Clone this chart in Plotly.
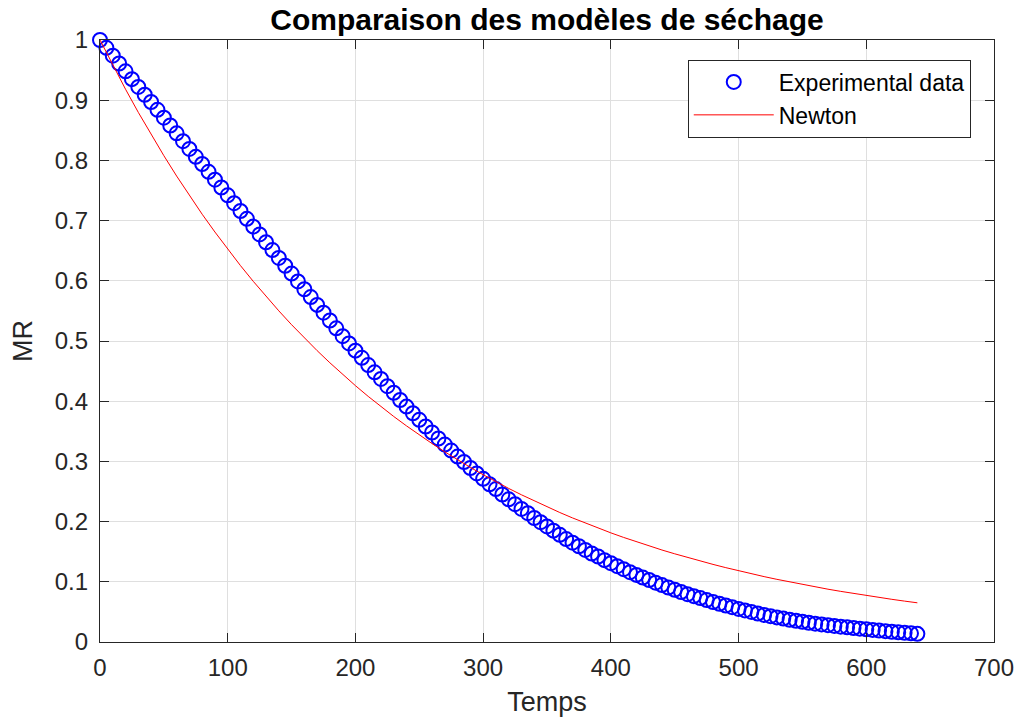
import plotly.graph_objects as go

# ---- data ----
time_exp = list(range(0, 645, 5))  # sample times 0..640 (step 5)
mr_exp = [
    1.000, 0.987, 0.974, 0.961, 0.948, 0.935, 0.922, 0.909, 0.897, 0.884,
    0.871, 0.858, 0.845, 0.832, 0.819, 0.806, 0.794, 0.781, 0.768, 0.755,
    0.742, 0.729, 0.716, 0.703, 0.690, 0.677, 0.664, 0.651, 0.638, 0.625,
    0.612, 0.599, 0.586, 0.573, 0.560, 0.547, 0.534, 0.521, 0.508, 0.496,
    0.484, 0.472, 0.460, 0.448, 0.437, 0.425, 0.414, 0.402, 0.391, 0.380,
    0.369, 0.358, 0.348, 0.338, 0.328, 0.318, 0.308, 0.299, 0.289, 0.280,
    0.271, 0.262, 0.254, 0.245, 0.237, 0.229, 0.221, 0.214, 0.206, 0.199,
    0.192, 0.185, 0.178, 0.171, 0.165, 0.159, 0.153, 0.147, 0.142, 0.136,
    0.131, 0.126, 0.121, 0.116, 0.1115, 0.107, 0.103, 0.0985, 0.0945, 0.0905,
    0.0868, 0.0831, 0.0795, 0.0762, 0.0730, 0.0697, 0.0665, 0.0635, 0.0606, 0.0578,
    0.0550, 0.0524, 0.0499, 0.0474, 0.0450, 0.0429, 0.0409, 0.0389, 0.0370, 0.0353,
    0.0336, 0.0320, 0.0305, 0.0292, 0.0280, 0.0267, 0.0255, 0.0243, 0.0232, 0.0221,
    0.0210, 0.0200, 0.0190, 0.0180, 0.0170, 0.0161, 0.0152, 0.0144, 0.0135,
]

time_newton = list(range(0, 650, 10))
mr_newton = [
    1.0000, 0.9582, 0.9182, 0.8798, 0.8430, 0.8078, 0.7740, 0.7416, 0.7106, 0.6810,
    0.6525, 0.6252, 0.5991, 0.5741, 0.5501, 0.5271, 0.5051, 0.4840, 0.4638, 0.4444,
    0.4258, 0.4080, 0.3910, 0.3746, 0.3590, 0.3440, 0.3296, 0.3158, 0.3026, 0.2900,
    0.2779, 0.2663, 0.2551, 0.2445, 0.2343, 0.2245, 0.2151, 0.2061, 0.1975, 0.1892,
    0.1813, 0.1737, 0.1665, 0.1595, 0.1528, 0.1465, 0.1403, 0.1345, 0.1289, 0.1235,
    0.1183, 0.1134, 0.1086, 0.1041, 0.0997, 0.0956, 0.0916, 0.0877, 0.0841, 0.0806,
    0.0772, 0.0740, 0.0709, 0.0679, 0.0651,
]

title_text = "Comparaison des modèles de séchage"
x_title = "Temps"
y_title = "MR"
x_ticks = [0, 100, 200, 300, 400, 500, 600, 700]
y_ticks = [0, 0.1, 0.2, 0.3, 0.4, 0.5, 0.6, 0.7, 0.8, 0.9, 1]

FONT = "Liberation Sans, Arial, sans-serif"
AX = "#262626"
GRID = "#dfdfdf"

fig = go.Figure()
fig.add_trace(go.Scatter(
    x=time_exp, y=mr_exp, mode="markers", name="Experimental data",
    marker=dict(symbol="circle-open", size=14, color="#0000ff",
                line=dict(width=2, color="#0000ff")),
    cliponaxis=False,
))
fig.add_trace(go.Scatter(
    x=time_newton, y=mr_newton, mode="lines", name="Newton",
    line=dict(color="#ff0000", width=1),
))

axis_common = dict(
    showline=True, linecolor=AX, linewidth=1.3, mirror="ticks",
    ticks="inside", ticklen=9, tickwidth=1.3, tickcolor=AX,
    showgrid=True, gridcolor=GRID, gridwidth=1, zeroline=False,
    tickfont=dict(family=FONT, size=24, color=AX), automargin=False,
)

fig.update_layout(
    width=1021, height=720,
    margin=dict(l=100, r=27, t=40, b=78),
    paper_bgcolor="white", plot_bgcolor="white",
    title=dict(text="<b>" + title_text + "</b>", x=0.5, xref="paper", xanchor="center",
               y=1 - 19 / 720, yanchor="middle",
               font=dict(family=FONT, size=30, color="black")),
    xaxis=dict(range=[0, 700], tickvals=x_ticks, ticklabelstandoff=4,
               title=dict(text=x_title, font=dict(family=FONT, size=27, color=AX), standoff=12),
               **axis_common),
    yaxis=dict(range=[0, 1], tickvals=y_ticks, ticklabelstandoff=6,
               title=dict(text=y_title, font=dict(family=FONT, size=27, color=AX), standoff=14),
               **axis_common),
    legend=dict(x=0.974, y=0.9676, xanchor="right", yanchor="top",
                bgcolor="white", bordercolor=AX, borderwidth=1,
                font=dict(family=FONT, size=23, color="black"),
                itemwidth=80, tracegroupgap=0),
    showlegend=True,
)

fig.write_html("out.html")
